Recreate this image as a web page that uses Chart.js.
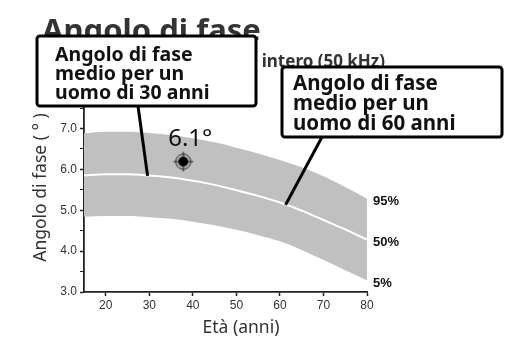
<!DOCTYPE html>
<html lang="it">
<head>
    <meta charset="UTF-8">
    <title>Angolo di fase</title>
    <script src="https://cdn.jsdelivr.net/npm/chart.js"></script>
    <style>
        body { margin: 0; background: #fff; }
        #chart { display: block; }
    </style>
</head>
<body>
    <canvas id="chart" width="517" height="338"></canvas>

    <script>
        // Dati
        const eta = [15, 20, 25, 30, 35, 40, 45, 50, 55, 60, 65, 70, 75, 80];
        const p95 = [6.88, 6.92, 6.92, 6.89, 6.84, 6.76, 6.66, 6.53, 6.39, 6.23, 6.05, 5.83, 5.57, 5.28];
        const p50 = [5.85, 5.88, 5.88, 5.85, 5.80, 5.72, 5.62, 5.49, 5.35, 5.19, 4.99, 4.76, 4.53, 4.28];
        const p05 = [4.84, 4.86, 4.86, 4.83, 4.79, 4.72, 4.63, 4.52, 4.39, 4.24, 4.03, 3.78, 3.53, 3.28];
        const percentili = ['95%', '50%', '5%'];

        const pazienteEta = [37.8];
        const pazienteValore = [6.19];
        const pazienteEtichetta = '6.1°';

        const noteTesti = [
            ['Angolo di fase', 'medio per un', 'uomo di 30 anni'],
            ['Angolo di fase', 'medio per un', 'uomo di 60 anni']
        ];
        const noteEta = [29.6, 61.3];
        const noteValore = [5.84, 5.13];

        const titolo = 'Angolo di fase';
        const sottotitolo = 'Angolo di fase corpo intero (50 kHz)';
        const titoloY = 'Angolo di fase ( ° )';
        const titoloX = 'Età (anni)';

        // marcatore a mirino
        function creaMirino() {
            const c = document.createElement('canvas');
            c.width = 22; c.height = 22;
            const g = c.getContext('2d');
            g.strokeStyle = '#222';
            g.lineWidth = 1;
            g.beginPath(); g.arc(11, 11, 7.5, 0, Math.PI * 2); g.stroke();
            g.beginPath();
            g.moveTo(1, 11); g.lineTo(21, 11);
            g.moveTo(11, 1); g.lineTo(11, 21);
            g.stroke();
            g.fillStyle = '#000';
            g.beginPath(); g.arc(11, 11, 5, 0, Math.PI * 2); g.fill();
            return c;
        }

        const decorazioni = {
            id: 'decorazioni',
            afterDraw(chart) {
                const ctx = chart.ctx;
                const x = chart.scales.x, y = chart.scales.y;
                ctx.save();

                // etichette percentili a destra
                ctx.fillStyle = '#111';
                ctx.font = 'bold 13px "Liberation Sans", Arial, sans-serif';
                ctx.textBaseline = 'middle';
                ctx.textAlign = 'left';
                const serie = [p95, p50, p05];
                serie.forEach((s, i) => {
                    const py = y.getPixelForValue(s[s.length - 1]);
                    ctx.fillText(percentili[i], chart.chartArea.right + 6, py + 3);
                });

                // etichetta del paziente
                ctx.font = '24px "Noto Sans", sans-serif';
                ctx.textAlign = 'center';
                ctx.textBaseline = 'alphabetic';
                ctx.fillStyle = '#111';
                ctx.fillText(pazienteEtichetta,
                    x.getPixelForValue(pazienteEta[0]) + 7,
                    y.getPixelForValue(pazienteValore[0]) - 16);

                // titoli assi
                ctx.fillStyle = '#333';
                ctx.font = '17.5px "Noto Sans", sans-serif';
                ctx.textAlign = 'center';
                ctx.textBaseline = 'alphabetic';
                ctx.fillText(titoloX, 241, 333);
                ctx.save();
                ctx.translate(46, 187.5);
                ctx.rotate(-Math.PI / 2);
                ctx.fillText(titoloY, 0, 0);
                ctx.restore();

                // titolo e sottotitolo
                ctx.textAlign = 'left';
                ctx.font = 'bold 31px "Noto Sans", sans-serif';
                ctx.fillText(titolo, 42, 41);
                ctx.textAlign = 'right';
                ctx.font = 'bold 17px "Noto Sans", sans-serif';
                ctx.fillText(sottotitolo, 385, 67);

                // riquadri delle note
                const riquadri = [
                    { l: 37, t: 36, w: 219, h: 70, tx: 55, b0: 61, passo: 19, fs: 19.5 },
                    { l: 282, t: 67, w: 220, h: 70, tx: 293, b0: 90, passo: 20, fs: 20.5 }
                ];
                riquadri.forEach((r, i) => {
                    const ax = x.getPixelForValue(noteEta[i]);
                    const ay = y.getPixelForValue(noteValore[i]);
                    const sx = i === 0 ? 138 : 322;
                    ctx.strokeStyle = '#000';
                    ctx.lineWidth = 3;
                    ctx.beginPath();
                    ctx.moveTo(sx, r.t + r.h);
                    ctx.lineTo(ax, ay);
                    ctx.stroke();

                    ctx.fillStyle = '#fff';
                    ctx.beginPath();
                    ctx.roundRect(r.l, r.t, r.w, r.h, 3);
                    ctx.fill();
                    ctx.stroke();

                    ctx.fillStyle = '#111';
                    ctx.textAlign = 'left';
                    ctx.font = 'bold ' + r.fs + 'px "Noto Sans", sans-serif';
                    noteTesti[i].forEach((riga, k) => {
                        ctx.fillText(riga, r.tx, r.b0 + k * r.passo);
                    });
                });
                ctx.restore();
            }
        };

        new Chart(document.getElementById('chart'), {
            type: 'line',
            data: {
                datasets: [
                    {
                        label: '95%',
                        data: eta.map((e, i) => ({ x: e, y: p95[i] })),
                        borderWidth: 0,
                        borderColor: 'rgba(0,0,0,0)',
                        backgroundColor: '#c0c0c0',
                        pointRadius: 0,
                        cubicInterpolationMode: 'monotone',
                        fill: 2
                    },
                    {
                        label: '50%',
                        data: eta.map((e, i) => ({ x: e, y: p50[i] })),
                        borderColor: '#fff',
                        borderWidth: 2,
                        pointRadius: 0,
                        cubicInterpolationMode: 'monotone',
                        fill: false
                    },
                    {
                        label: '5%',
                        data: eta.map((e, i) => ({ x: e, y: p05[i] })),
                        borderWidth: 0,
                        borderColor: 'rgba(0,0,0,0)',
                        pointRadius: 0,
                        cubicInterpolationMode: 'monotone',
                        fill: false
                    },
                    {
                        label: 'Paziente',
                        data: pazienteEta.map((e, i) => ({ x: e, y: pazienteValore[i] })),
                        showLine: false,
                        pointStyle: creaMirino(),
                        pointRadius: 11
                    }
                ]
            },
            options: {
                responsive: false,
                animation: false,
                layout: { padding: { top: 108, right: 150, bottom: 0, left: 0 } },
                plugins: {
                    legend: { display: false },
                    tooltip: { enabled: false },
                    filler: { drawTime: 'beforeDatasetsDraw' }
                },
                scales: {
                    x: {
                        type: 'linear',
                        min: 15,
                        max: 80,
                        afterFit: s => { s.height = 46; },
                        border: { color: '#222', width: 1.8 },
                        grid: { drawOnChartArea: false, tickLength: 4, tickColor: '#222', tickWidth: 1.5 },
                        ticks: {
                            stepSize: 10,
                            includeBounds: false,
                            color: '#333',
                            padding: 2,
                            font: { family: '"Liberation Sans", Arial, sans-serif', size: 12 }
                        }
                    },
                    y: {
                        min: 3,
                        max: 7.5,
                        afterFit: s => { s.width = 84; },
                        border: { color: '#222', width: 1.8 },
                        grid: {
                            drawOnChartArea: false,
                            tickLength: 4,
                            tickColor: '#222',
                            tickWidth: c => (Number.isInteger(c.tick.value) ? 1.5 : 1)
                        },
                        ticks: {
                            stepSize: 0.5,
                            color: '#333',
                            padding: 3,
                            font: { family: '"Liberation Sans", Arial, sans-serif', size: 12 },
                            callback: v => (Number.isInteger(v) ? v.toFixed(1) : '')
                        }
                    }
                }
            },
            plugins: [decorazioni]
        });
    </script>
</body>
</html>
